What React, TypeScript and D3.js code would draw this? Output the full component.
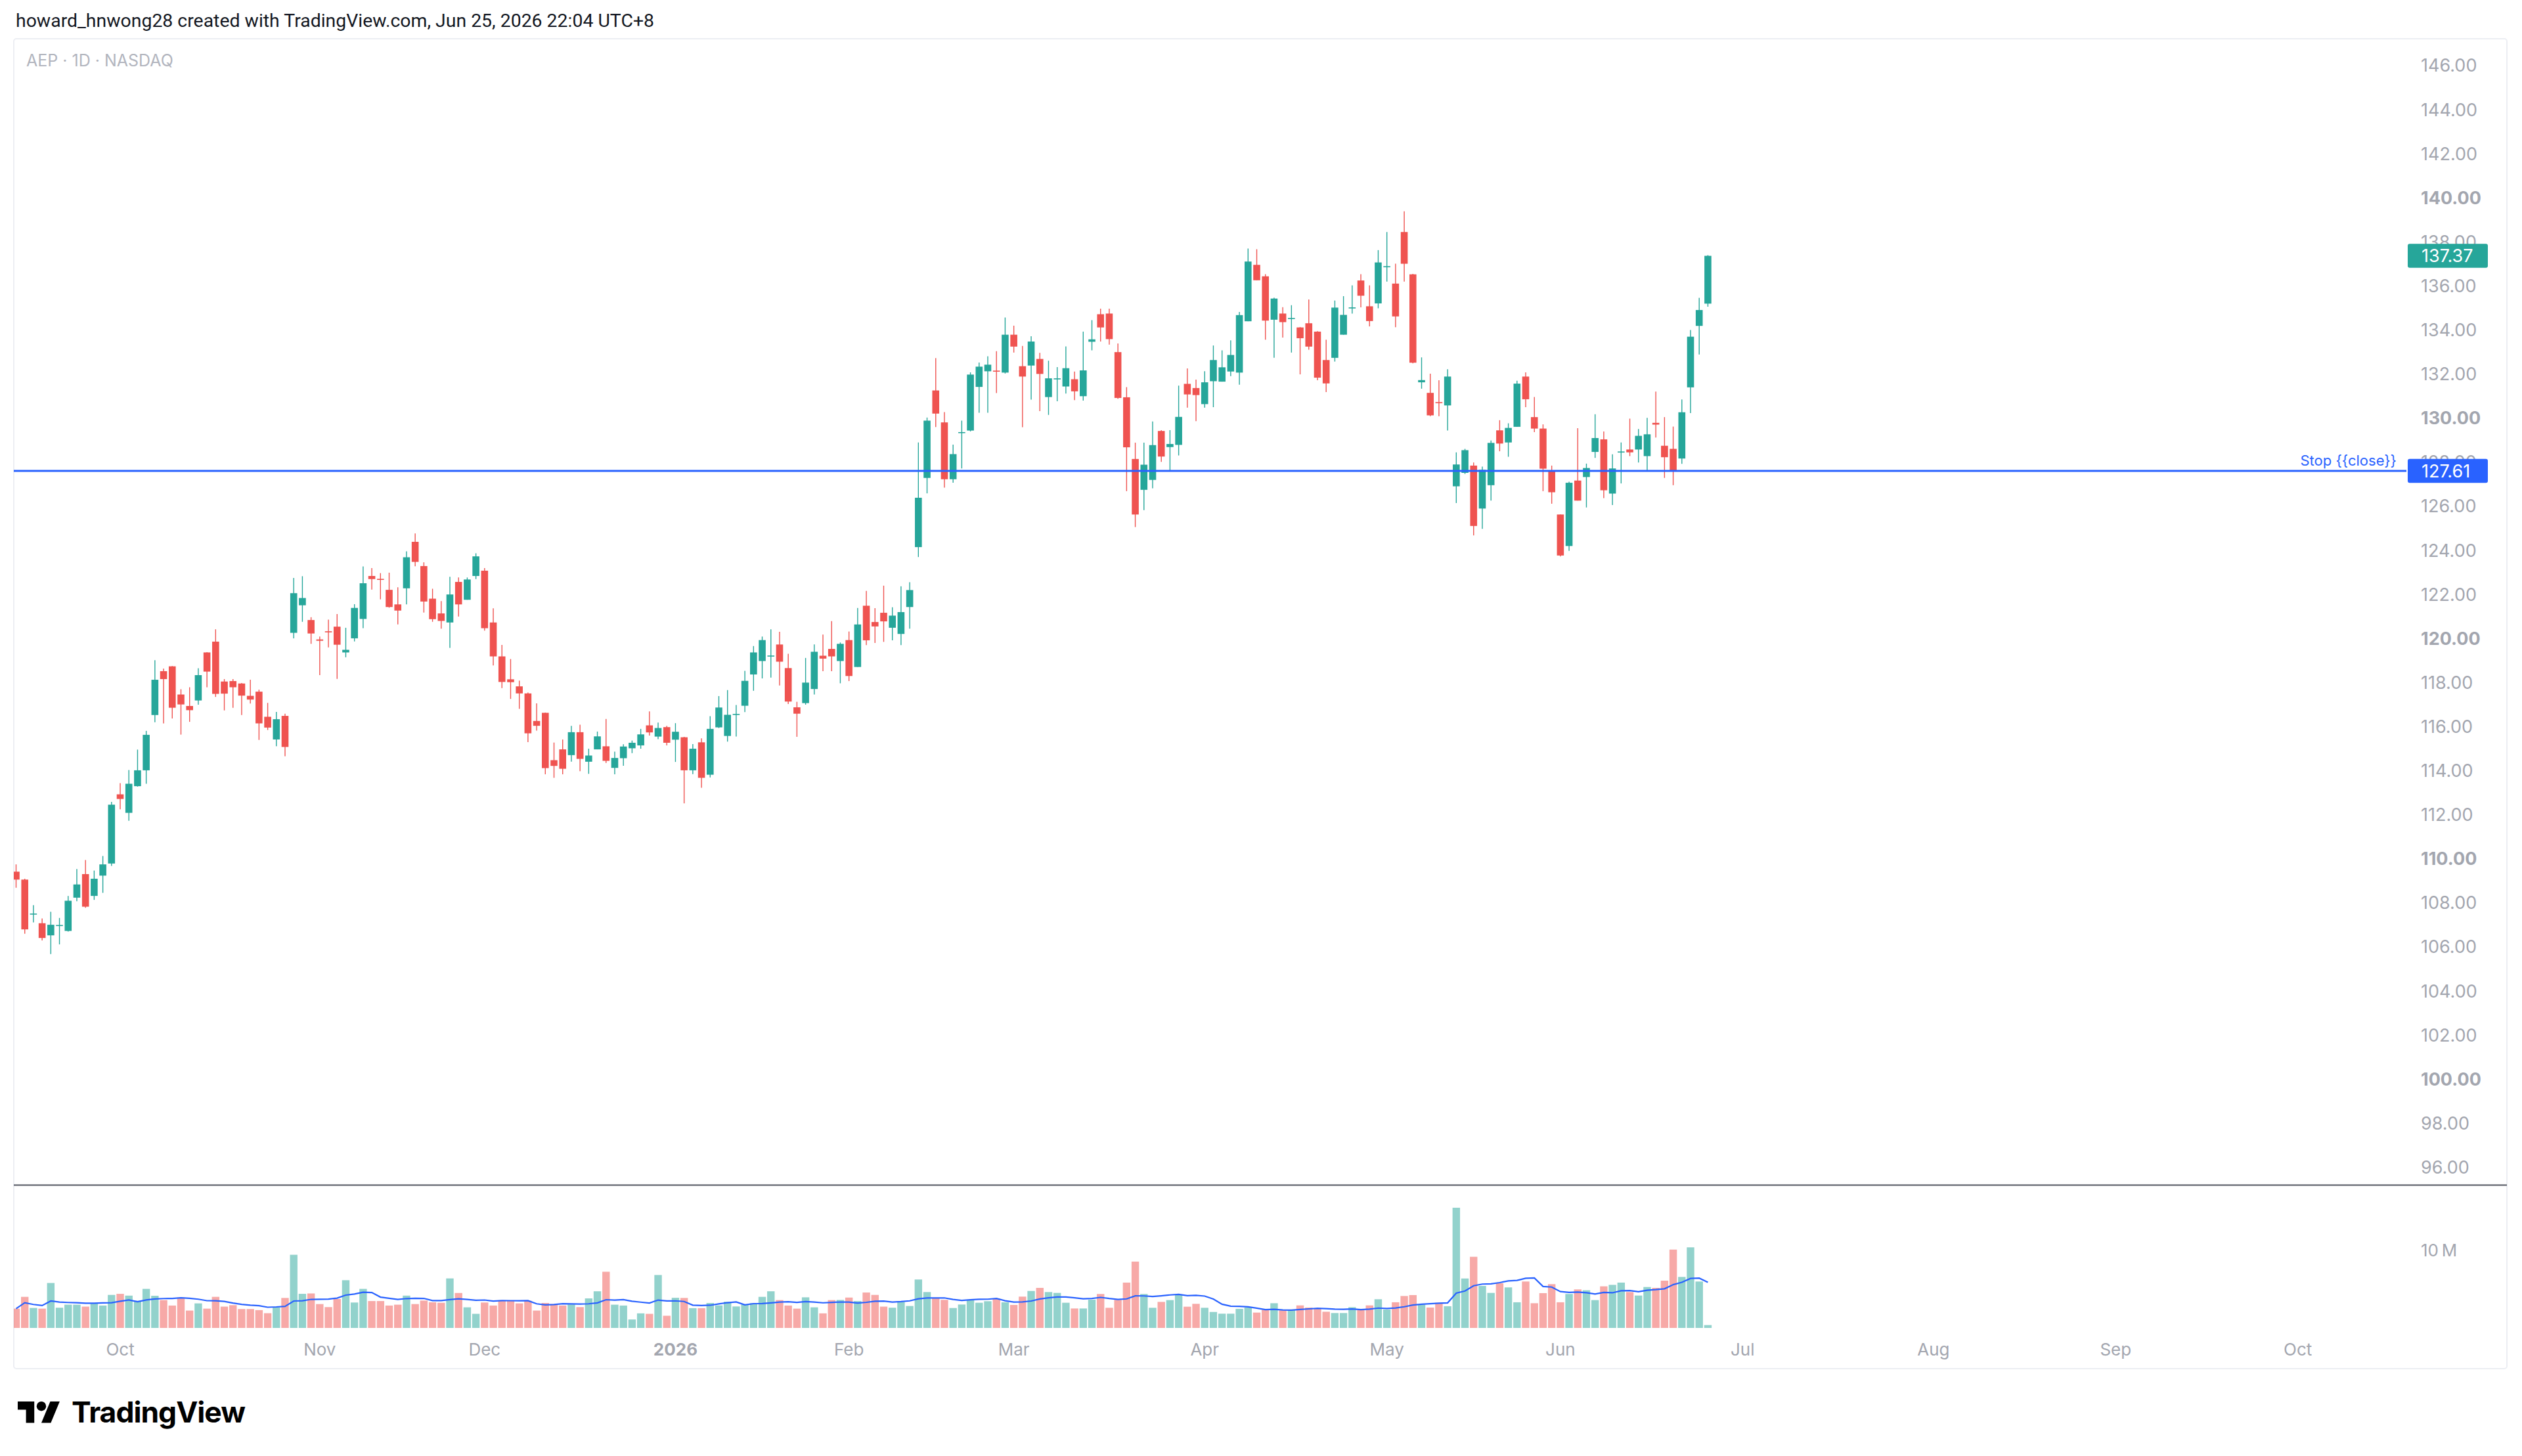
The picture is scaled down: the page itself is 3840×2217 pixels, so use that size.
import React, { useMemo } from 'react';
import * as d3 from 'd3';

// AEP daily bars, Sep 15 2025 .. Jun 25 2026 (trading days, bar index 0..195)
const OPEN = [
  109.42, 109.06, 107.48, 107.08, 106.53, 106.96, 106.73, 108.24, 109.31, 108.32,
  109.24, 109.79, 112.93, 112.09, 113.30, 114.02, 116.53, 118.52, 118.74, 117.46,
  116.94, 117.19, 119.37, 119.86, 118.05, 118.07, 117.96, 117.40, 117.59, 116.45,
  115.42, 116.49, 120.26, 121.51, 120.84, 119.96, 120.33, 120.54, 119.37, 120.01,
  120.89, 122.84, 122.71, 122.21, 121.55, 122.28, 124.39, 123.29, 121.81, 121.14,
  120.73, 122.57, 121.76, 122.84, 123.08, 120.73, 119.19, 118.15, 117.83, 117.51,
  116.26, 116.63, 114.48, 114.97, 114.71, 115.75, 114.41, 114.97, 115.11, 114.13,
  114.57, 115.02, 115.15, 116.06, 115.55, 115.98, 115.41, 115.52, 114.02, 115.29,
  113.82, 115.97, 115.58, 116.54, 116.95, 118.37, 118.98, 119.19, 119.73, 118.66,
  116.88, 117.07, 117.71, 119.22, 119.53, 118.98, 119.93, 118.71, 121.49, 120.75,
  121.17, 120.49, 120.21, 121.43, 124.15, 127.29, 131.26, 129.81, 127.23, 129.33,
  129.44, 131.42, 132.13, 132.16, 132.07, 133.79, 132.36, 132.39, 132.69, 130.96,
  131.77, 131.44, 131.77, 131.00, 133.47, 134.72, 134.75, 133.00, 130.95, 128.15,
  126.75, 127.20, 129.42, 128.69, 128.79, 131.56, 131.37, 130.64, 131.68, 131.66,
  132.12, 132.07, 134.40, 136.96, 136.44, 134.47, 134.75, 134.51, 134.12, 134.31,
  133.93, 132.64, 132.74, 133.79, 134.99, 136.25, 135.08, 135.21, 136.86, 136.11,
  138.45, 136.53, 131.63, 131.15, 130.73, 130.58, 126.91, 127.52, 127.85, 125.90,
  126.96, 129.45, 128.90, 129.61, 131.89, 130.05, 129.53, 127.60, 125.63, 124.20,
  127.17, 127.33, 128.47, 129.04, 126.58, 128.45, 128.58, 128.58, 128.28, 129.79,
  128.75, 128.61, 128.17, 131.40, 134.19, 135.20,
];
const HIGH = [
  109.75, 109.10, 107.90, 107.30, 107.60, 107.32, 108.32, 109.54, 109.95, 109.47,
  110.13, 112.59, 113.44, 114.03, 114.96, 115.81, 119.02, 118.64, 118.75, 117.70,
  117.79, 118.65, 119.38, 120.42, 118.16, 118.16, 117.98, 118.13, 117.68, 117.08,
  116.67, 116.59, 122.75, 122.83, 120.97, 120.09, 120.86, 121.11, 120.49, 121.56,
  123.27, 123.20, 122.97, 122.99, 122.33, 123.96, 124.77, 123.46, 122.26, 121.70,
  122.80, 122.77, 122.77, 123.87, 123.20, 121.37, 119.71, 119.07, 118.09, 117.55,
  117.06, 116.64, 115.28, 115.42, 116.04, 116.09, 115.00, 115.78, 116.35, 114.87,
  115.20, 115.37, 115.90, 116.69, 116.19, 116.04, 116.16, 115.54, 115.21, 115.47,
  116.48, 117.39, 117.66, 116.98, 118.53, 119.66, 120.09, 120.42, 120.31, 119.31,
  117.13, 119.12, 119.73, 120.18, 120.79, 119.82, 120.32, 121.39, 122.16, 121.38,
  122.40, 121.42, 122.37, 122.56, 128.90, 130.03, 132.73, 130.28, 128.80, 129.89,
  132.08, 132.53, 132.81, 133.04, 134.57, 134.20, 133.28, 133.72, 132.97, 132.61,
  132.32, 133.26, 132.12, 133.93, 134.45, 134.97, 134.97, 133.39, 131.41, 128.89,
  128.89, 129.85, 129.46, 129.46, 131.48, 132.26, 131.75, 132.13, 133.30, 133.08,
  133.53, 134.82, 137.70, 137.67, 136.54, 135.47, 135.04, 135.13, 134.14, 135.39,
  133.95, 133.56, 135.34, 135.54, 136.03, 136.54, 136.03, 137.63, 138.45, 137.01,
  139.39, 136.55, 132.76, 132.02, 131.72, 132.22, 128.45, 128.61, 127.99, 127.80,
  128.99, 129.91, 129.77, 131.70, 132.08, 130.96, 129.72, 127.85, 125.63, 127.12,
  129.55, 127.94, 130.18, 129.40, 128.36, 128.90, 129.98, 129.51, 130.02, 131.21,
  130.05, 129.62, 130.85, 134.00, 135.46, 137.40,
];
const LOW = [
  108.69, 106.60, 107.12, 106.30, 105.68, 106.12, 106.70, 108.08, 107.78, 108.14,
  108.46, 109.68, 112.25, 111.73, 113.28, 113.41, 116.20, 116.15, 116.37, 115.64,
  116.22, 117.00, 117.79, 117.35, 116.74, 116.86, 116.53, 117.05, 115.40, 115.85,
  115.11, 114.66, 120.01, 120.76, 119.76, 118.34, 119.60, 118.17, 119.15, 119.87,
  120.47, 122.22, 121.78, 121.40, 120.64, 121.55, 123.28, 121.18, 120.76, 120.45,
  119.58, 121.00, 121.76, 122.70, 120.36, 118.78, 117.75, 117.26, 116.81, 115.30,
  115.82, 113.84, 113.68, 113.84, 114.41, 113.98, 113.86, 114.97, 114.35, 113.84,
  114.23, 114.80, 115.00, 115.60, 115.43, 115.15, 114.40, 112.52, 113.85, 113.23,
  113.70, 115.94, 115.32, 115.55, 116.66, 117.63, 118.19, 118.23, 117.87, 117.03,
  115.54, 117.00, 117.46, 118.52, 118.52, 117.97, 118.07, 118.71, 119.70, 119.80,
  119.85, 119.92, 119.70, 120.45, 123.70, 126.59, 129.60, 126.85, 127.07, 127.72,
  129.40, 130.25, 130.25, 131.14, 132.03, 132.98, 129.59, 130.84, 130.32, 130.15,
  130.77, 131.12, 130.82, 130.80, 133.08, 133.48, 133.34, 130.88, 126.69, 125.06,
  125.83, 126.82, 128.02, 127.62, 128.31, 130.48, 129.87, 130.48, 130.50, 131.66,
  131.91, 131.52, 134.40, 136.26, 133.56, 132.74, 133.66, 132.98, 131.99, 133.11,
  131.72, 131.19, 132.57, 133.79, 134.75, 135.03, 134.17, 134.99, 136.20, 134.13,
  136.20, 132.49, 131.34, 130.09, 130.09, 129.44, 126.15, 127.47, 124.68, 124.98,
  126.26, 128.50, 128.25, 129.61, 130.50, 129.37, 126.69, 126.12, 123.73, 123.98,
  126.26, 125.95, 128.20, 126.37, 126.06, 127.04, 128.28, 127.99, 127.58, 129.12,
  127.29, 126.96, 127.93, 130.23, 132.89, 135.06,
];
const CLOSE = [
  109.06, 106.80, 107.52, 106.41, 107.01, 107.00, 108.10, 108.84, 107.83, 109.10,
  109.75, 112.46, 112.72, 113.41, 114.02, 115.63, 118.13, 118.16, 116.86, 117.01,
  116.75, 118.34, 118.50, 117.49, 117.50, 117.79, 117.41, 117.23, 116.15, 115.96,
  116.34, 115.08, 122.06, 121.84, 120.23, 119.90, 120.28, 119.72, 119.49, 121.39,
  122.51, 122.70, 122.67, 121.43, 121.27, 123.69, 123.48, 121.68, 120.88, 120.80,
  122.00, 121.55, 122.68, 123.73, 120.47, 119.19, 118.03, 118.02, 117.51, 115.70,
  116.04, 114.12, 114.22, 114.09, 115.75, 114.54, 114.69, 115.56, 114.45, 114.58,
  115.10, 115.27, 115.65, 115.74, 115.94, 115.27, 115.77, 114.02, 115.00, 113.68,
  115.90, 116.87, 116.54, 116.58, 118.08, 119.37, 119.93, 119.23, 118.95, 117.14,
  116.59, 118.00, 119.40, 119.09, 119.19, 119.76, 118.30, 120.64, 119.92, 120.55,
  120.78, 121.04, 121.20, 122.20, 126.39, 129.89, 130.21, 127.23, 128.37, 129.37,
  131.98, 132.34, 132.43, 132.12, 133.79, 133.25, 131.89, 133.48, 132.01, 131.81,
  131.81, 132.27, 131.22, 132.17, 133.58, 134.12, 133.59, 130.92, 128.68, 125.63,
  127.89, 128.78, 128.26, 128.83, 130.06, 131.08, 131.05, 131.63, 132.64, 132.31,
  132.87, 134.68, 137.11, 136.26, 134.43, 135.43, 134.36, 134.55, 133.63, 133.25,
  131.84, 131.58, 135.02, 134.69, 135.03, 135.56, 134.41, 137.07, 136.90, 134.62,
  137.01, 132.52, 131.73, 130.13, 130.69, 131.89, 127.90, 128.55, 125.11, 127.66,
  128.88, 128.85, 129.56, 131.57, 130.86, 129.53, 127.71, 126.64, 123.77, 127.07,
  126.26, 127.74, 129.10, 126.73, 127.72, 128.49, 128.45, 129.20, 129.27, 129.71,
  128.23, 127.63, 130.27, 133.70, 134.91, 137.37,
];
// volume in millions of shares
const VOLUME_M = [
  2.49, 4.01, 2.58, 2.49, 5.80, 2.61, 3.00, 3.00, 2.75, 3.17,
  2.89, 4.26, 4.40, 4.17, 3.50, 5.04, 4.15, 3.59, 2.89, 3.92,
  2.24, 3.17, 2.49, 4.01, 2.75, 2.94, 2.44, 2.44, 2.30, 1.90,
  2.66, 3.87, 9.44, 4.40, 4.45, 3.08, 2.69, 3.73, 6.16, 3.28,
  5.04, 3.47, 3.47, 2.89, 3.00, 4.17, 3.08, 3.53, 3.31, 3.25,
  6.39, 4.51, 2.66, 1.82, 3.28, 2.89, 3.56, 3.50, 3.17, 3.50,
  2.24, 3.22, 3.08, 2.89, 3.03, 2.69, 3.81, 4.73, 7.25, 3.00,
  2.89, 1.09, 1.88, 1.82, 6.83, 1.57, 3.89, 3.87, 2.55, 2.55,
  3.22, 2.91, 3.39, 2.77, 3.03, 3.19, 4.01, 4.73, 3.59, 2.89,
  2.49, 3.95, 2.66, 1.88, 3.59, 3.61, 3.92, 3.47, 4.57, 4.26,
  2.75, 2.61, 3.36, 2.83, 6.25, 4.63, 3.87, 3.62, 2.57, 3.02,
  3.59, 3.25, 3.45, 3.76, 3.31, 2.97, 4.04, 4.77, 5.17, 4.63,
  4.52, 3.25, 2.51, 2.51, 3.64, 4.38, 2.60, 3.62, 5.85, 8.56,
  4.38, 2.60, 3.36, 3.59, 4.32, 2.74, 3.11, 2.60, 2.06, 1.84,
  1.84, 2.46, 2.63, 1.98, 2.34, 3.19, 2.26, 2.32, 2.91, 2.63,
  2.54, 2.09, 1.92, 1.92, 2.68, 2.32, 2.91, 3.70, 2.37, 3.31,
  4.12, 4.24, 3.02, 2.63, 3.25, 2.80, 15.51, 6.38, 9.18, 5.42,
  4.52, 5.76, 5.23, 3.31, 5.99, 3.19, 4.49, 5.65, 3.31, 4.38,
  4.97, 4.86, 3.59, 5.37, 5.56, 5.85, 4.63, 4.18, 5.28, 5.17,
  6.10, 10.11, 6.58, 10.40, 5.99, 0.37,
];
// first trading day of each month, as bar index
const MONTH_TICKS = [
  { label: 'Oct', bar: 12 },
  { label: 'Nov', bar: 35 },
  { label: 'Dec', bar: 54 },
  { label: '2026', bar: 76, bold: true },
  { label: 'Feb', bar: 96 },
  { label: 'Mar', bar: 115 },
  { label: 'Apr', bar: 137 },
  { label: 'May', bar: 158 },
  { label: 'Jun', bar: 178 },
  { label: 'Jul', bar: 199 },
  { label: 'Aug', bar: 221 },
  { label: 'Sep', bar: 242 },
  { label: 'Oct', bar: 263 },
];
const PRICE_TICKS = [96, 98, 100, 102, 104, 106, 108, 110, 112, 114, 116, 118, 120, 122,
  124, 126, 128, 130, 132, 134, 136, 138, 140, 142, 144, 146];
const VOLUME_TICKS = [{ value: 10, label: '10\u2009M' }];
const LAST_PRICE = 137.37;
const STOP_PRICE = 127.61;
const VOLUME_MA_LENGTH = 10;

const W = 3840;
const H = 2217;
const UP = '#26a69a';
const DOWN = '#ef5350';
const BLUE = '#2962ff';
const AXIS_TEXT = '#a3a6af';
const FONT = 'Inter, "Noto Sans", sans-serif';

const App: React.FC = () => {
  const x = useMemo(() => d3.scaleLinear().domain([0, 263]).range([24.5, 3498.7]), []);
  const y = useMemo(() => d3.scaleLinear().domain([146, 96]).range([100, 1777.5]), []);
  const yVol = useMemo(() => d3.scaleLinear().domain([0, 10]).range([2022, 1904]), []);

  const volMA = useMemo(() => VOLUME_M.map((_, i) => {
    const win = VOLUME_M.slice(Math.max(0, i - VOLUME_MA_LENGTH + 1), i + 1);
    return d3.mean(win) as number;
  }), []);

  const maPath = d3.line<number>().x((_, i) => x(i)).y(d => yVol(d))(volMA) || '';

  const bodyW = 10.6;
  const volW = 11.4;
  const plotRight = 3664;

  return (
    <svg width={W} height={H} style={{ position: 'absolute', left: 0, top: 0, display: 'block', background: '#fff' }}>
      <rect x={0} y={0} width={W} height={H} fill="#fff" />
      <text x={24} y={32} dy="0.35em" fontFamily="Roboto, sans-serif" fontSize={27} fill="#131722"
        textLength={972} lengthAdjust="spacingAndGlyphs">
        howard_hnwong28 created with TradingView.com, Jun 25, 2026 22:04 UTC+8
      </text>

      <rect x={21} y={59} width={3796} height={2025} rx={4} fill="#fff" stroke="#eceef3" strokeWidth={2} />

      <defs>
        <clipPath id="pricePane"><rect x={21} y={60} width={plotRight - 21} height={1744} /></clipPath>
        <clipPath id="volPane"><rect x={21} y={1806} width={plotRight - 21} height={240} /></clipPath>
      </defs>

      <text x={40} y={92} dy="0.35em" fontFamily={FONT} fontSize={25} fill="#b2b5be">AEP · 1D · NASDAQ</text>

      {/* candles */}
      <g clipPath="url(#pricePane)">
        {OPEN.map((o, i) => {
          const c = CLOSE[i];
          const col = c >= o ? UP : DOWN;
          const cx = x(i);
          const top = y(Math.max(o, c));
          const h = Math.max(1.6, Math.abs(y(o) - y(c)));
          return (
            <g key={i}>
              <line x1={cx} x2={cx} y1={y(HIGH[i])} y2={y(LOW[i])} stroke={col} strokeWidth={1.4} />
              <rect x={cx - bodyW / 2} y={top} width={bodyW} height={h} fill={col} />
            </g>
          );
        })}
      </g>

      {/* stop line */}
      <line x1={21} x2={plotRight} y1={y(STOP_PRICE)} y2={y(STOP_PRICE)} stroke={BLUE} strokeWidth={3} />
      <text x={3649} y={y(STOP_PRICE) - 16} dy="0.35em" textAnchor="end" fontFamily={FONT} fontSize={22} fill={BLUE}>
        {'Stop {{close}}'}
      </text>

      {/* price axis */}
      {PRICE_TICKS.map(p => (
        <text key={p} x={3686} y={y(p)} dy="0.35em" fontFamily={FONT} fontSize={27}
          fontWeight={p % 10 === 0 ? 700 : 400} fill={AXIS_TEXT}>
          {p.toFixed(2)}
        </text>
      ))}
      <rect x={3666} y={y(LAST_PRICE) - 18.3} width={122} height={36.6} rx={3} fill={UP} />
      <text x={3687} y={y(LAST_PRICE)} dy="0.36em" fontFamily={FONT} fontSize={27} fill="#fff">{LAST_PRICE.toFixed(2)}</text>
      <rect x={3666} y={y(STOP_PRICE) - 18.3} width={122} height={36.6} rx={3} fill={BLUE} />
      <text x={3687} y={y(STOP_PRICE)} dy="0.36em" fontFamily={FONT} fontSize={27} fill="#fff">{STOP_PRICE.toFixed(2)}</text>

      {/* pane separator */}
      <line x1={21} x2={3817} y1={1804.5} y2={1804.5} stroke="#50535e" strokeWidth={2} />

      {/* volume */}
      <g clipPath="url(#volPane)">
        {VOLUME_M.map((v, i) => (
          <rect key={i} x={x(i) - volW / 2} y={yVol(v)} width={volW} height={yVol(0) - yVol(v)}
            fill={CLOSE[i] >= OPEN[i] ? UP : DOWN} fillOpacity={0.5} />
        ))}
        <path d={maPath} fill="none" stroke={BLUE} strokeWidth={2.2} />
      </g>
      {VOLUME_TICKS.map(t => (
        <text key={t.label} x={3686} y={yVol(t.value)} dy="0.35em" fontFamily={FONT} fontSize={26} fill={AXIS_TEXT}>{t.label}</text>
      ))}

      {/* time axis */}
      {MONTH_TICKS.map(t => (
        <text key={t.label + t.bar} x={x(t.bar)} y={2055} dy="0.35em" textAnchor="middle" fontFamily={FONT}
          fontSize={26} fontWeight={t.bold ? 700 : 400} fill={AXIS_TEXT}>
          {t.label}
        </text>
      ))}

      {/* TradingView logo */}
      <g transform="translate(27,2126.8) scale(1.8)" fill="#000">
        <path d="M14 22H7V11H0V4h14v18zM28 22h-8l7.5-18h8L28 22z" />
        <circle cx={20} cy={8} r={4} />
      </g>
      <text x={109} y={2166} fontFamily={FONT} fontSize={44} fontWeight={700} fill="#000"
        textLength={264} lengthAdjust="spacingAndGlyphs" letterSpacing={-1}>
        TradingView
      </text>
    </svg>
  );
};

export default App;
